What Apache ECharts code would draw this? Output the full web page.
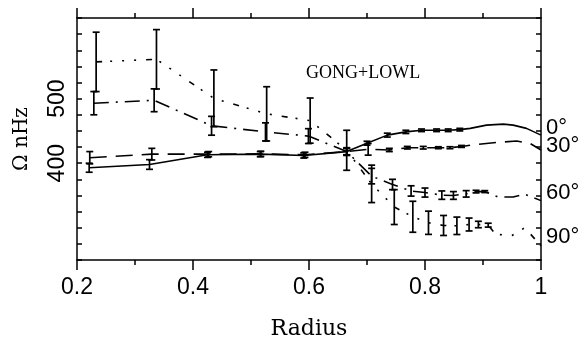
<!DOCTYPE html>
<html>
<head>
<meta charset="utf-8">
<script src="https://cdn.jsdelivr.net/npm/echarts@6/dist/echarts.min.js"></script>
<style>html,body{margin:0;padding:0;background:#fff;}#c{width:586px;height:341px;}</style>
</head>
<body>
<div id="c"></div>
<script>
// ---- data ----
const xTicks = ['0.2', '0.4', '0.6', '0.8', '1'];
const yTicks = ['400', '500'];

// 0 deg (solid)
const r0 = [0.221, 0.325, 0.425, 0.516, 0.591, 0.665, 0.700, 0.735, 0.767, 0.794, 0.820, 0.840, 0.860, 0.878, 0.906, 0.935, 0.952, 0.975, 1.0];
const w0 = [393, 398, 413, 414, 412, 418, 431, 443.5, 448.5, 451, 451, 451, 452, 454, 459, 460.5, 459, 454, 443.5];
const e0 = [7, 7.5, 4, 4, 4, 5, 3, 3, 2.5, 2, 2, 2, 2, 0, 0, 0, 0, 0, 0];

// 30 deg (long dash)
const r30 = [0.222, 0.329, 0.427, 0.517, 0.593, 0.665, 0.702, 0.7385, 0.7695, 0.797, 0.823, 0.843, 0.863, 0.889, 0.924, 0.958, 0.981, 1.0];
const w30 = [408.5, 414, 414, 414.5, 413, 418, 421.5, 420.5, 424, 424, 424, 424, 426, 429, 432.3, 434.3, 430.8, 420.5];
const e30 = [9.5, 9, 4, 4, 4, 5, 9, 2.5, 2, 2, 1.5, 1.5, 1.5, 0, 0, 0, 0, 0];

// 60 deg (dash-dot)
const r60 = [0.229, 0.333, 0.432, 0.525, 0.599, 0.665, 0.708, 0.744, 0.776, 0.800, 0.829, 0.849, 0.871, 0.888, 0.903, 0.924, 0.938, 0.952, 0.972, 1.0];
const w60 = [493, 497.5, 458, 448.5, 442, 418, 380, 367, 357, 354.5, 350.5, 350, 352.5, 356, 356, 348.5, 347.7, 347.7, 352, 342];
const e60 = [18, 17.7, 14.6, 14, 11.5, 6, 12, 8, 8, 7, 6.5, 6, 5, 2, 1.5, 0, 0, 0, 0, 0];

// 90 deg (dotted)
const r90 = [0.233, 0.337, 0.436, 0.527, 0.602, 0.665, 0.708, 0.747, 0.779, 0.806, 0.832, 0.855, 0.876, 0.892, 0.909, 0.922, 0.950, 0.972, 1.0];
const w90 = [557, 561, 500.5, 476.5, 466, 420, 368, 332, 317, 307.7, 303.5, 303, 305, 305, 304, 289.7, 288, 300, 272];
const e90 = [46, 46, 44, 42, 35, 31, 29, 27, 24, 18, 15.5, 13.5, 10, 5, 3, 0, 0, 0, 0];

// right-hand latitude labels
const latNames = ['0°', '30°', '60°', '90°'];
const latY = [455, 426.5, 354, 285];

const title = 'GONG+LOWL';
const xName = 'Radius';
const yName = 'Ω nHz';

// ---- build ----
const INK = '#000';
const sets = [
  {r: r0, w: w0, e: e0, dash: 'solid'},
  {r: r30, w: w30, e: e30, dash: [17, 9]},
  {r: r60, w: w60, e: e60, dash: [15, 7, 2, 7]},
  {r: r90, w: w90, e: e90, dash: [6, 8, 2, 10, 2, 10, 2, 10]}
];

const series = [];
sets.forEach(function (s) {
  series.push({
    type: 'line', symbol: 'none', silent: true, animation: false,
    data: s.r.map(function (x, i) { return [x, s.w[i]]; }),
    lineStyle: {color: INK, width: 1.6, type: s.dash}
  });
  const eb = [];
  s.r.forEach(function (x, i) { if (s.e[i] > 0) eb.push([x, s.w[i] - s.e[i], s.w[i] + s.e[i]]); });
  series.push({
    type: 'custom', silent: true, animation: false,
    data: eb,
    encode: {x: 0, y: [1, 2]},
    renderItem: function (params, api) {
      const x = api.value(0);
      const lo = api.coord([x, api.value(1)]);
      const hi = api.coord([x, api.value(2)]);
      const hw = 3.5;
      const st = {stroke: INK, lineWidth: 1.7, fill: null};
      return {
        type: 'group',
        children: [
          {type: 'line', shape: {x1: lo[0], y1: lo[1], x2: hi[0], y2: hi[1]}, style: st},
          {type: 'line', shape: {x1: lo[0] - hw, y1: lo[1], x2: lo[0] + hw, y2: lo[1]}, style: st},
          {type: 'line', shape: {x1: hi[0] - hw, y1: hi[1], x2: hi[0] + hw, y2: hi[1]}, style: st}
        ]
      };
    }
  });
});

series.push({
  type: 'scatter', silent: true, animation: false, symbolSize: 0,
  itemStyle: {opacity: 1, color: INK},
  data: latNames.map(function (n, i) { return {name: n, value: [1.0, latY[i]]}; }),
  label: {show: true, position: 'right', distance: 5, formatter: '{b}', opacity: 1,
          color: INK, fontFamily: 'Liberation Sans', fontSize: 22}
});

const axisLine = {show: true, lineStyle: {color: INK, width: 1.5}};
const chart = echarts.init(document.getElementById('c'), null, {renderer: 'canvas'});
chart.setOption({
  backgroundColor: '#fff',
  animation: false,
  title: {text: title, left: 306, top: 64, padding: 0,
          textStyle: {fontFamily: 'Liberation Serif', fontSize: 18, fontWeight: 'normal', color: INK}},
  grid: {left: 77, right: 45, top: 18, bottom: 81, containLabel: false, outerBoundsMode: 'none'},
  xAxis: [
    {type: 'value', min: 0.2, max: 1.0, interval: 0.2, position: 'bottom',
     name: xName, nameLocation: 'middle', nameGap: 58,
     nameTextStyle: {fontFamily: 'DejaVu Serif', fontSize: 22, color: INK},
     axisLine: axisLine,
     axisTick: {show: true, inside: false, length: 10, lineStyle: {color: INK, width: 1.5}},
     minorTick: {show: true, splitNumber: 2, length: 5, lineStyle: {color: INK, width: 1.5}},
     splitLine: {show: false},
     axisLabel: {margin: 16, color: INK, fontFamily: 'Liberation Sans', fontSize: 23,
       formatter: function (v) { const t = String(Math.round(v * 10) / 10); return xTicks.indexOf(t) >= 0 ? t : ''; }}},
    {type: 'value', min: 0.2, max: 1.0, interval: 0.2, position: 'top',
     axisLine: axisLine,
     axisTick: {show: true, inside: false, length: 10, lineStyle: {color: INK, width: 1.5}},
     minorTick: {show: true, splitNumber: 2, length: 5, lineStyle: {color: INK, width: 1.5}},
     splitLine: {show: false}, axisLabel: {show: false}}
  ],
  yAxis: [
    {type: 'value', min: 250, max: 625, interval: 25, position: 'left',
     name: yName, nameLocation: 'middle', nameGap: 45, nameRotate: 90,
     nameTextStyle: {fontFamily: 'DejaVu Serif', fontSize: 20, color: INK},
     axisLine: axisLine,
     axisTick: {show: true, inside: true, length: 5, lineStyle: {color: INK, width: 1.5}},
     splitLine: {show: false},
     axisLabel: {margin: 8, rotate: 90, color: INK, fontFamily: 'Liberation Sans', fontSize: 23,
       formatter: function (v) { const t = String(v); return yTicks.indexOf(t) >= 0 ? t : ''; }}},
    {type: 'value', min: 250, max: 625, interval: 25, position: 'right',
     axisLine: axisLine,
     axisTick: {show: true, inside: true, length: 5, lineStyle: {color: INK, width: 1.5}},
     splitLine: {show: false}, axisLabel: {show: false}}
  ],
  series: series
});
</script>
</body>
</html>
